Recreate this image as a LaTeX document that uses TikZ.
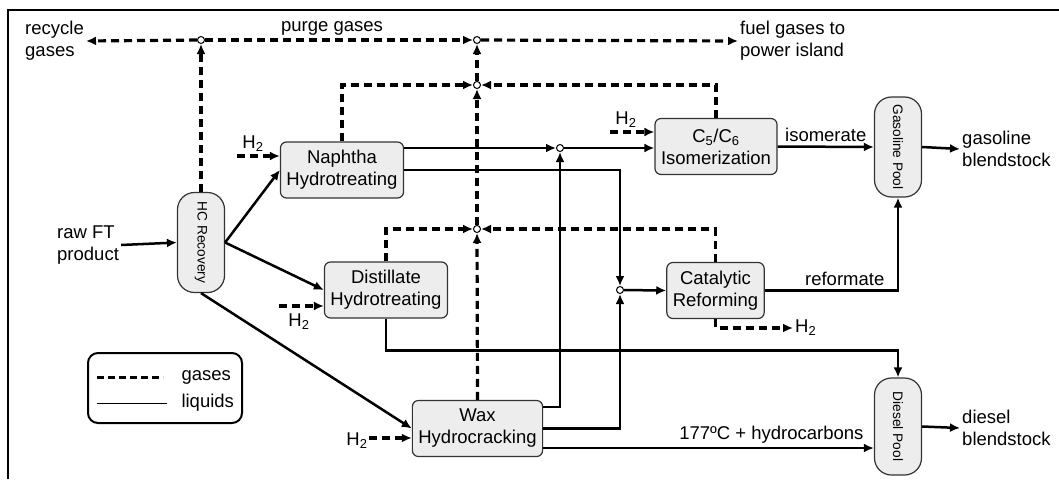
\documentclass[tikz,border=0pt]{standalone}
\usepackage{fontspec}
\setmainfont{Liberation Sans}
\usetikzlibrary{arrows.meta}

\begin{document}
\begin{tikzpicture}[x=1pt,y=-1pt,>={Latex[length=10pt,width=9pt]},
  every node/.style={font=\fontsize{18.5}{22}\selectfont},
  procbox/.style={draw=black!80,line width=1.2pt,fill=black!7,rounded corners=6pt,align=center,inner xsep=6pt,minimum height=56pt},
  poolbox/.style={draw=black!80,line width=1.2pt,fill=black!7,rounded corners=17pt,minimum width=47pt,inner sep=0pt,font=\fontsize{13.7}{16}\selectfont},
  junc/.style={circle,draw,fill=white,line width=1pt,inner sep=0pt,minimum size=7pt},
  gasline/.style={line width=3.2pt,dash pattern=on 8pt off 5pt},
  liqline/.style={line width=2.5pt}]
\useasboundingbox (0,0) rectangle (1059,479);
\draw[line width=1.6pt] (8,479) -- (8,10) -- (1059,10);

\node[poolbox,minimum height=100pt] (hc) at (201,242.5) {\rotatebox{-90}{HC Recovery}};
\node[poolbox,minimum height=100pt] (gpool) at (898,147) {\rotatebox{-90}{Gasoline Pool}};
\node[poolbox,minimum height=97pt] (dpool) at (898,426.5) {\rotatebox{-90}{Diesel Pool}};

\node[procbox] (naph) at (342,170) {Naphtha\\Hydrotreating};
\node[procbox] (dist) at (386,290) {Distillate\\Hydrotreating};
\node[procbox] (wax) at (477.5,428.5) {Wax\\Hydrocracking};
\node[procbox] (iso) at (716,146.5) {C\textsubscript{5}/C\textsubscript{6}\\Isomerization};
\node[procbox] (cat) at (715.5,290.5) {Catalytic\\Reforming};

\node[junc] (j1) at (201,40) {};
\node[junc] (j2) at (477,40) {};
\node[junc] (j3) at (477,85) {};
\node[junc] (j4) at (477,229) {};
\node[junc] (j5) at (560,148) {};
\node[junc] (j6) at (620,290) {};

\node[anchor=west,align=left,inner sep=2pt] (recycle) at (23,41) {recycle\\gases};
\node[anchor=west,align=left,inner sep=2pt] (fuel) at (738,41) {fuel gases to\\power island};
\node (purge) at (332,28) {purge gases};
\node[anchor=west,align=left,inner sep=2pt] (rawft) at (55,245) {raw FT\\product};
\node[anchor=west,align=left,inner sep=2pt] (gasout) at (960,149) {gasoline\\blendstock};
\node[anchor=west,align=left,inner sep=2pt] (dieselout) at (960,428) {diesel\\blendstock};

\node (h2n) at (253,144) {H\textsubscript{2}};
\node (h2d) at (299,322) {H\textsubscript{2}};
\node (h2w) at (357,441) {H\textsubscript{2}};
\node (h2i) at (626,120) {H\textsubscript{2}};
\node[anchor=west,inner sep=2pt] (h2c) at (793,328) {H\textsubscript{2}};
\coordinate (h2nin) at (237,156);
\coordinate (h2din) at (279,306);
\coordinate (h2win) at (369,438);
\coordinate (h2iin) at (610,132);

\draw[gasline,->] (hc.north) -- (j1);
\draw[gasline,->] (j1) -- (recycle.east);
\draw[gasline,->] (j1) -- (j2);
\draw[gasline,->] (j2) -- (fuel.west);
\draw[gasline,->] (j3) -- (j2);
\draw[gasline,->] (j4) -- (j3);
\draw[gasline,->] (wax.north) -- (j4);
\draw[gasline,->] (naph.north) |- (j3);
\draw[gasline,->] (iso.north) |- (j3);
\draw[gasline,->] (dist.north) |- (j4);
\draw[gasline,->] (cat.north) |- (j4);

\draw[gasline,->] (h2nin) -- (h2nin -| naph.west);
\draw[gasline,->] (h2din) -- (h2din -| dist.west);
\draw[gasline,->] (h2win) -- (h2win -| wax.west);
\draw[gasline,->] (h2iin) -- (h2iin -| iso.west);
\draw[gasline,->] (cat.south) |- (h2c.west);

\draw[liqline,->] (rawft.east) -- (hc.west);
\draw[liqline,->] (hc.east) -- (naph.west);
\draw[liqline,->] (hc.east) -- (dist.west);
\draw[liqline,->] (hc.south) -- (wax.west);
\draw[liqline,->] (naph.east |- j5) -- (j5);
\draw[liqline,->] (j5) -- (j5 -| iso.west);
\draw[liqline,->] (naph.east) -| (j6);
\draw[liqline,->] (j6) -- (cat.west);
\draw[liqline,->] ([yshift=21.5pt]wax.east) -| (j5);
\draw[liqline,->] (wax.east) -| (j6);
\draw[liqline,->] ([yshift=-19.5pt]wax.east) -- ([yshift=-19.5pt]wax.east -| dpool.west) node[pos=0.69,above] {177ºC + hydrocarbons};
\draw[liqline,->] (dist.south) -- ++(0,32) -| (dpool.north);
\draw[liqline,->] (iso.east) -- (gpool.west) node[midway,above] {isomerate};
\draw[liqline,->] (cat.east) -| (gpool.south) node[pos=0.3,above] {reformate};
\draw[liqline,->] (gpool.east) -- (gasout.west);
\draw[liqline,->] (dpool.east) -- (dieselout.west);

\node[draw,line width=2pt,rounded corners=10pt,minimum width=154pt,minimum height=70pt] (legend) at (165,388) {};
\coordinate (lgas) at (97,377);
\coordinate (lliq) at (97,403);
\draw[line width=3pt,dash pattern=on 7pt off 4pt] (lgas) -- ++(66,0);
\draw[line width=1pt] (lliq) -- ++(70,0);
\node[anchor=west] (lgastext) at (178,377) {gases};
\node[anchor=west] (lliqtext) at (178,403) {liquids};
\end{tikzpicture}
\end{document}
